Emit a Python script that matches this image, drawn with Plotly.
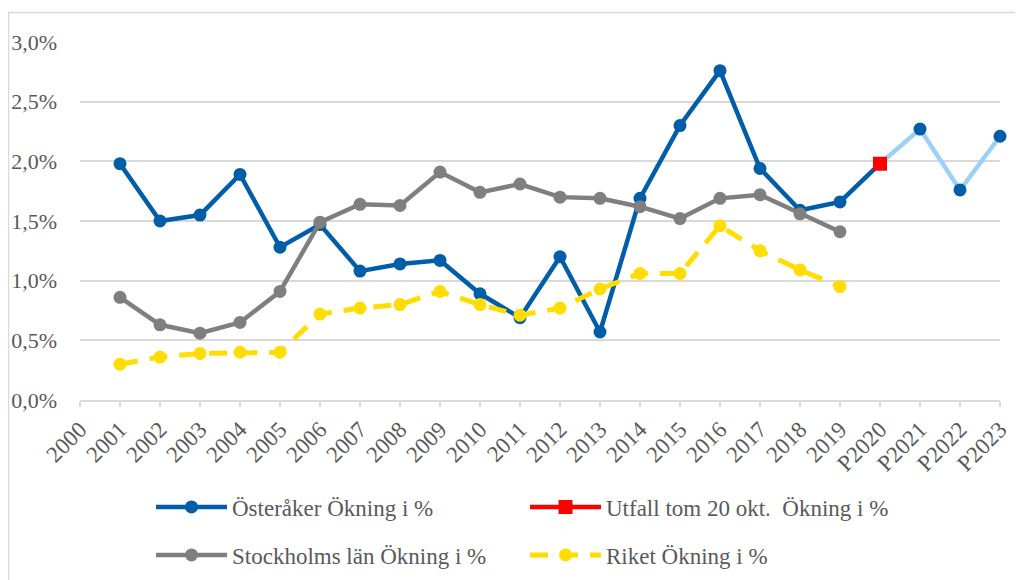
import plotly.graph_objects as go

categories = ["2000", "2001", "2002", "2003", "2004", "2005", "2006", "2007", "2008",
              "2009", "2010", "2011", "2012", "2013", "2014", "2015", "2016", "2017",
              "2018", "2019", "P2020", "P2021", "P2022", "P2023"]

# Österåker, 2001..P2023 (P2020 = utfall, P2021..P2023 = prognos)
osteraker_years = categories[1:]
osteraker = [1.98, 1.50, 1.55, 1.89, 1.28, 1.47, 1.08, 1.14, 1.17, 0.89, 0.69, 1.20,
             0.57, 1.69, 2.30, 2.76, 1.94, 1.59, 1.66, 1.98, 2.27, 1.76, 2.21]

utfall_years = ["P2020"]
utfall = [1.98]

stockholm_years = categories[1:20]
stockholm = [0.86, 0.63, 0.56, 0.65, 0.91, 1.49, 1.64, 1.63, 1.91, 1.74, 1.81, 1.70,
             1.69, 1.62, 1.52, 1.69, 1.72, 1.56, 1.41]

riket_years = categories[1:20]
riket = [0.30, 0.36, 0.39, 0.40, 0.40, 0.72, 0.77, 0.80, 0.91, 0.80, 0.71, 0.77,
         0.93, 1.06, 1.06, 1.46, 1.25, 1.09, 0.95]

BLUE = "#005DA8"
LIGHT_BLUE = "#9DD0F7"
GRAY = "#7F7F7F"
YELLOW = "#FFDD00"
RED = "#FF0000"
TEXT = "#595959"
GRID = "#D9D9D9"
FONT = "Liberation Serif"

split = osteraker_years.index("P2020")

fig = go.Figure()

fig.add_trace(go.Scatter(
    x=osteraker_years[:split + 1], y=osteraker[:split + 1],
    mode="lines+markers", name="Österåker Ökning i %",
    line=dict(color=BLUE, width=4.5), marker=dict(color=BLUE, size=13),
    cliponaxis=False, legend="legend"))

fig.add_trace(go.Scatter(
    x=osteraker_years[split:], y=osteraker[split:],
    mode="lines+markers", showlegend=False,
    line=dict(color=LIGHT_BLUE, width=4.5), marker=dict(color=BLUE, size=13),
    cliponaxis=False))

fig.add_trace(go.Scatter(
    x=stockholm_years, y=stockholm,
    mode="lines+markers", name="Stockholms län Ökning i %",
    line=dict(color=GRAY, width=4.5), marker=dict(color=GRAY, size=13),
    cliponaxis=False, legend="legend3"))

fig.add_trace(go.Scatter(
    x=riket_years, y=riket,
    mode="lines+markers", name="Riket Ökning i %",
    line=dict(color=YELLOW, width=5, dash="18px,12px"), marker=dict(color=YELLOW, size=13),
    cliponaxis=False, legend="legend4"))

fig.add_trace(go.Scatter(
    x=utfall_years, y=utfall,
    mode="lines+markers", name="Utfall tom 20 okt.  Ökning i %",
    line=dict(color=RED, width=4.5), marker=dict(color=RED, size=14, symbol="square"),
    cliponaxis=False, legend="legend2"))

# the page body has an 8px margin; figure is sized to fill the rest of the window
OFF = 8
W, H = 1023 - OFF, 580 - OFF
# plot area in page pixels: x 80..1000, y 42..400
L, T = 80 - OFF, 42 - OFF
R, B = W - (1000 - OFF), H - (400 - OFF)
pw, ph = W - L - R, H - T - B

def px(xpage):
    return (xpage - OFF - L) / pw

def py(ypage):
    return (H - B - (ypage - OFF)) / ph

def cx(xpage):
    return (xpage - OFF) / W

def cy(ypage):
    return 1 - (ypage - OFF) / H

legend_common = dict(
    orientation="h", xanchor="left", yanchor="middle",
    xref="container", yref="container",
    font=dict(family=FONT, size=23, color=TEXT),
    bgcolor="rgba(0,0,0,0)", itemwidth=71, itemclick=False)

COL1, COL2 = 151, 525
ROW1, ROW2 = 507, 555

fig.update_layout(
    width=W, height=H,
    margin=dict(l=L, r=R, t=T, b=B, autoexpand=False),
    paper_bgcolor="white", plot_bgcolor="white",
    separators=", ",
    font=dict(family=FONT, size=21, color=TEXT),
    showlegend=True,
    legend=dict(x=cx(COL1), y=cy(ROW1), **legend_common),
    legend2=dict(x=cx(COL2), y=cy(ROW1), **legend_common),
    legend3=dict(x=cx(COL1), y=cy(ROW2), **legend_common),
    legend4=dict(x=cx(COL2), y=cy(ROW2), **legend_common),
    xaxis=dict(
        type="category", categoryorder="array", categoryarray=categories,
        range=[0, len(categories) - 1],
        showgrid=False, showline=True, linecolor=GRID, linewidth=2,
        ticks="outside", ticklen=5, tickcolor=GRID, tickwidth=1.5,
        tickangle=-45, tickfont=dict(family=FONT, size=23, color=TEXT),
        zeroline=False, automargin=False),
    yaxis=dict(
        range=[0, 3.0], dtick=0.5, tickformat=".1f", ticksuffix="%",
        showgrid=True, gridcolor=GRID, gridwidth=1.5,
        showline=False, zeroline=False, ticks="",
        ticklabelstandoff=22, automargin=False,
        tickfont=dict(family=FONT, size=22, color=TEXT)),
    shapes=[dict(
        type="rect", xref="paper", yref="paper",
        x0=px(8.5), x1=px(1040), y0=py(600), y1=py(12.5),
        line=dict(color=GRID, width=1.5), layer="below")],
)

fig.write_html("out.html")
